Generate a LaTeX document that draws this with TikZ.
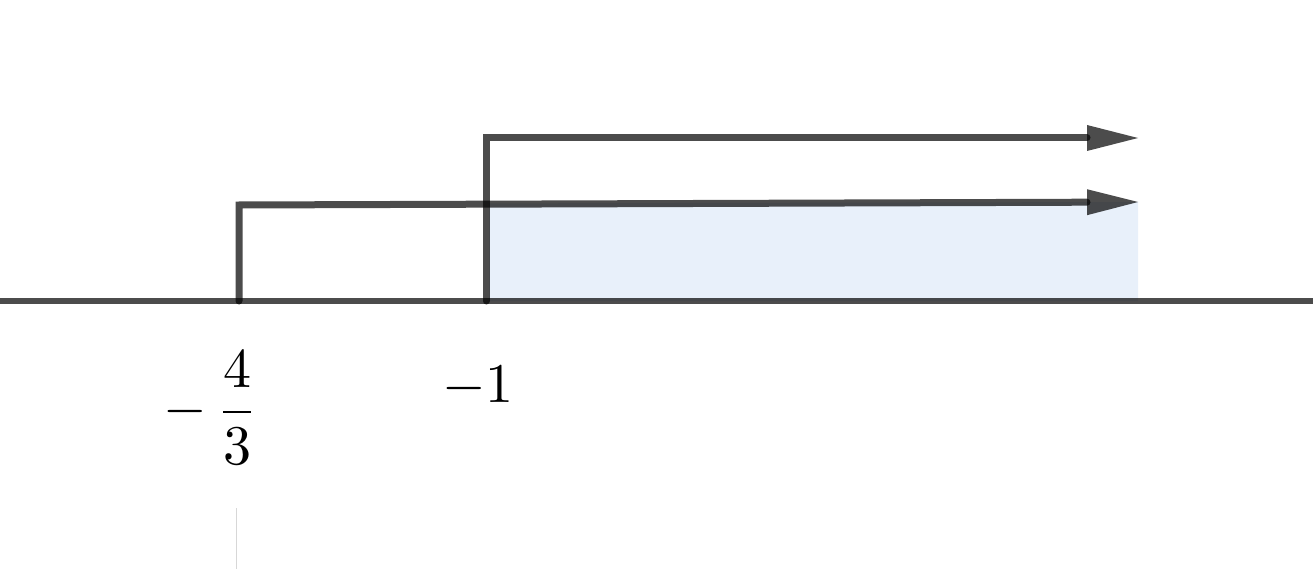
\documentclass[tikz,border=0pt]{standalone}
\usepackage{amsmath}
\usepackage{graphicx}
\definecolor{solfill}{RGB}{232,240,250}
\definecolor{guide}{RGB}{215,215,215}
\tikzset{
  ray/.style={line width=7pt, draw=black, draw opacity=0.7, line cap=round},
  axisline/.style={line width=6.5pt, draw=black, draw opacity=0.7},
  head/.style={fill=black, fill opacity=0.7},
  lbl/.style={inner sep=0pt}
}
\newcommand{\biglabel}[1]{\scalebox{5.6}{#1}}
\begin{document}
\begin{tikzpicture}[x=1pt,y=-1pt]
  \useasboundingbox (0,0) rectangle (1313,569);
  % key points
  \coordinate (axL) at (0,301);
  \coordinate (axR) at (1313,301);
  \coordinate (aBase) at (239,301);
  \coordinate (aTop) at (239,205);
  \coordinate (aHead) at (1087,202.2);
  \coordinate (aEnd) at (1138,202);
  \coordinate (bBase) at (486,301);
  \coordinate (bTop) at (486,138);
  \coordinate (bHead) at (1087,138);
  \coordinate (bEnd) at (1138,138);
  \coordinate (gTop) at (236,508);
  \coordinate (gBot) at (236,569);
  % solution set x >= -1
  \fill[solfill] (489,203.4) -- (1138,202) -- (1138,301) -- (489,301) -- cycle;
  % number line
  \draw[axisline] (axL) -- (axR);
  % x >= -4/3
  \draw[ray] (aBase) -- (aTop) -- (aHead);
  \fill[head] (aEnd) -- ([yshift=-13pt]aHead) -- ([yshift=13pt]aHead) -- cycle;
  % x >= -1
  \draw[ray] (bBase) -- (bTop) -- (bHead);
  \fill[head] (bEnd) -- ([yshift=-13pt]bHead) -- ([yshift=13pt]bHead) -- cycle;
  % labels
  \node[lbl] (lA) at (211,408) {\biglabel{$-\mkern3mu\dfrac{4}{3}$}};
  \node[lbl] (lB) at (478,387) {\biglabel{$-1$}};
  % faint guide
  \draw[guide, line width=1pt] (gTop) -- (gBot);
\end{tikzpicture}
\end{document}
